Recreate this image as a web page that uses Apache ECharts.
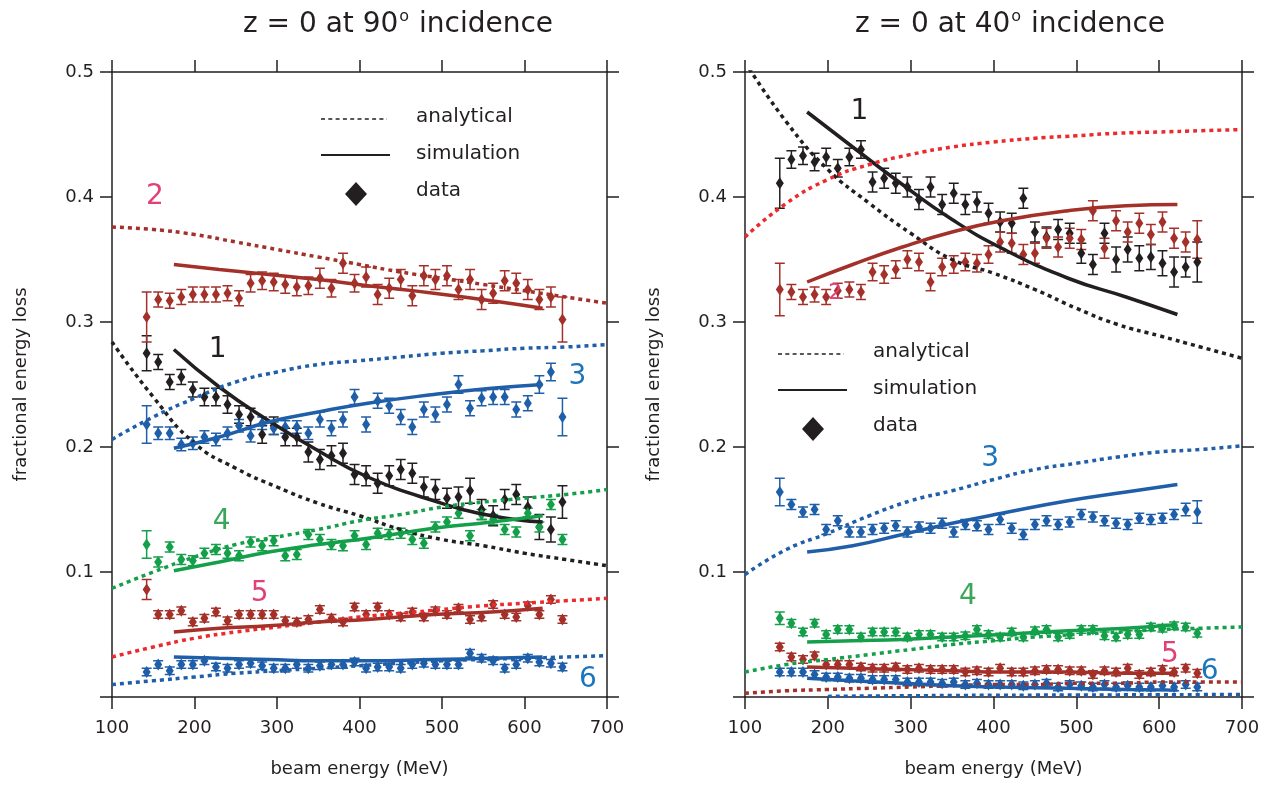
<!DOCTYPE html>
<html>
<head>
<meta charset="utf-8">
<script src="https://cdn.jsdelivr.net/npm/echarts@6.0.0/dist/echarts.min.js"></script>
<style>
html,body{margin:0;padding:0;background:#fff}
#chart{width:1271px;height:786px}
</style>
</head>
<body>
<div id="chart"></div>
<script>
// beam energies of the measured points (MeV)
var energy = [142,156,170,184,198,212,226,240,254,268,282,296,310,324,338,352,366,380,394,408,422,436,450,464,478,492,506,520,534,548,562,576,590,604,618,632,646];
// x of analytical and simulation curves
var anaE = [100,150,200,250,300,350,400,450,500,550,600,650,700];
var simE = [175,230,290,350,410,490,560,622];
var yTicks = [0, 0.1, 0.2, 0.3, 0.4, 0.5];

// ---- 90 deg incidence (left) ----
var L1_data = [0.275,0.268,0.252,0.256,0.246,0.240,0.240,0.234,0.226,0.224,0.210,0.217,0.208,0.208,0.196,0.190,0.193,0.195,0.178,0.177,0.171,0.177,0.182,0.179,0.168,0.166,0.159,0.160,0.165,0.150,0.145,0.158,0.162,0.152,0.136,0.134,0.156];
var L1_err = [0.014,0.006,0.006,0.006,0.006,0.007,0.007,0.007,0.007,0.007,0.007,0.007,0.007,0.007,0.008,0.008,0.008,0.008,0.008,0.008,0.008,0.008,0.008,0.008,0.008,0.008,0.008,0.008,0.010,0.008,0.008,0.008,0.008,0.008,0.010,0.010,0.013];
var L1_sim = [0.278,0.248,0.221,0.197,0.176,0.157,0.145,0.140];
var L1_ana = [0.284,0.240,0.203,0.183,0.168,0.155,0.145,0.134,0.126,0.121,0.115,0.110,0.105];

var L2_data = [0.304,0.318,0.317,0.320,0.322,0.322,0.322,0.323,0.319,0.331,0.333,0.332,0.330,0.328,0.329,0.335,0.327,0.347,0.331,0.336,0.322,0.327,0.334,0.321,0.337,0.334,0.337,0.326,0.334,0.318,0.323,0.333,0.331,0.326,0.318,0.320,0.302];
var L2_err = [0.020,0.006,0.006,0.006,0.006,0.006,0.006,0.006,0.006,0.007,0.007,0.007,0.007,0.007,0.007,0.008,0.007,0.008,0.007,0.008,0.008,0.008,0.008,0.008,0.008,0.008,0.008,0.008,0.008,0.008,0.008,0.008,0.008,0.008,0.008,0.008,0.018];
var L2_sim = [0.346,0.342,0.338,0.334,0.329,0.323,0.317,0.311];
var L2_ana = [0.376,0.374,0.370,0.364,0.358,0.352,0.346,0.340,0.335,0.330,0.325,0.320,0.315];

var L3_data = [0.218,0.211,0.211,0.202,0.203,0.208,0.206,0.211,0.217,0.209,0.219,0.215,0.216,0.216,0.211,0.222,0.215,0.222,0.240,0.218,0.237,0.233,0.224,0.216,0.230,0.226,0.234,0.250,0.231,0.239,0.240,0.240,0.230,0.235,0.250,0.260,0.224];
var L3_err = [0.015,0.005,0.005,0.005,0.005,0.005,0.005,0.005,0.005,0.005,0.005,0.005,0.005,0.005,0.005,0.006,0.006,0.006,0.006,0.006,0.006,0.006,0.006,0.006,0.006,0.006,0.006,0.007,0.006,0.006,0.006,0.006,0.006,0.006,0.007,0.007,0.015];
var L3_sim = [0.199,0.208,0.220,0.228,0.235,0.242,0.247,0.250];
var L3_ana = [0.206,0.224,0.239,0.252,0.260,0.266,0.269,0.272,0.275,0.277,0.279,0.280,0.282];

var L4_data = [0.122,0.108,0.120,0.110,0.109,0.115,0.118,0.115,0.113,0.124,0.121,0.125,0.113,0.114,0.130,0.126,0.122,0.121,0.129,0.122,0.131,0.130,0.131,0.126,0.123,0.136,0.140,0.147,0.129,0.146,0.142,0.134,0.132,0.147,0.136,0.154,0.126];
var L4_err = [0.011,0.004,0.004,0.004,0.004,0.004,0.004,0.004,0.004,0.004,0.004,0.004,0.004,0.004,0.004,0.004,0.004,0.004,0.004,0.004,0.004,0.004,0.004,0.004,0.004,0.004,0.004,0.004,0.004,0.004,0.004,0.004,0.004,0.004,0.004,0.004,0.004];
var L4_sim = [0.101,0.108,0.116,0.122,0.127,0.135,0.140,0.145];
var L4_ana = [0.087,0.100,0.112,0.122,0.128,0.134,0.141,0.146,0.152,0.156,0.159,0.162,0.166];

var L5_data = [0.086,0.066,0.066,0.069,0.060,0.063,0.068,0.061,0.066,0.066,0.066,0.066,0.061,0.060,0.062,0.070,0.063,0.060,0.072,0.066,0.072,0.066,0.064,0.068,0.064,0.069,0.066,0.071,0.062,0.064,0.074,0.066,0.064,0.073,0.066,0.078,0.062];
var L5_err = [0.008,0.003,0.003,0.003,0.003,0.003,0.003,0.003,0.003,0.003,0.003,0.003,0.003,0.003,0.003,0.003,0.003,0.003,0.003,0.003,0.003,0.003,0.003,0.003,0.003,0.003,0.003,0.003,0.003,0.003,0.003,0.003,0.003,0.003,0.003,0.003,0.003];
var L5_sim = [0.052,0.055,0.057,0.060,0.062,0.066,0.068,0.071];
var L5_ana = [0.032,0.040,0.047,0.052,0.056,0.060,0.064,0.067,0.070,0.073,0.075,0.077,0.079];

var L6_data = [0.020,0.026,0.021,0.026,0.026,0.029,0.024,0.023,0.026,0.027,0.025,0.023,0.023,0.026,0.023,0.025,0.026,0.026,0.028,0.023,0.024,0.024,0.023,0.026,0.027,0.026,0.026,0.026,0.035,0.031,0.029,0.023,0.026,0.031,0.028,0.027,0.024];
var L6_err = [0.003,0.003,0.003,0.003,0.003,0.003,0.003,0.003,0.003,0.003,0.003,0.003,0.003,0.003,0.003,0.003,0.003,0.003,0.003,0.003,0.003,0.003,0.003,0.003,0.003,0.003,0.003,0.003,0.003,0.003,0.003,0.003,0.003,0.003,0.003,0.003,0.003];
var L6_sim = [0.032,0.031,0.030,0.029,0.029,0.030,0.031,0.032];
var L6_ana = [0.010,0.013,0.016,0.019,0.021,0.023,0.025,0.027,0.029,0.030,0.031,0.032,0.033];

// ---- 40 deg incidence (right) ----
var R1_data = [0.411,0.430,0.433,0.428,0.432,0.423,0.432,0.438,0.412,0.415,0.411,0.408,0.398,0.408,0.394,0.403,0.394,0.396,0.387,0.380,0.379,0.399,0.372,0.368,0.374,0.371,0.355,0.346,0.371,0.350,0.358,0.351,0.352,0.347,0.340,0.344,0.348];
var R1_err = [0.020,0.007,0.007,0.007,0.007,0.007,0.007,0.007,0.008,0.008,0.008,0.008,0.008,0.008,0.008,0.008,0.008,0.008,0.008,0.008,0.008,0.008,0.008,0.008,0.008,0.008,0.008,0.008,0.008,0.010,0.010,0.010,0.010,0.010,0.012,0.008,0.016];
var R1_sim = [0.468,0.440,0.410,0.382,0.359,0.335,0.320,0.306];
var R1_ana = [0.508,0.460,0.422,0.395,0.371,0.350,0.339,0.326,0.311,0.298,0.289,0.280,0.271];

var R2_data = [0.326,0.324,0.320,0.322,0.320,0.325,0.326,0.324,0.340,0.338,0.342,0.350,0.348,0.332,0.344,0.346,0.348,0.347,0.354,0.364,0.363,0.354,0.355,0.367,0.360,0.367,0.366,0.389,0.359,0.381,0.372,0.379,0.370,0.380,0.367,0.364,0.366];
var R2_err = [0.021,0.006,0.006,0.006,0.006,0.006,0.006,0.006,0.007,0.007,0.007,0.007,0.007,0.007,0.007,0.007,0.007,0.007,0.007,0.008,0.008,0.008,0.008,0.008,0.008,0.008,0.008,0.008,0.008,0.008,0.008,0.008,0.008,0.008,0.008,0.008,0.015];
var R2_sim = [0.332,0.346,0.360,0.372,0.381,0.389,0.393,0.394];
var R2_ana = [0.368,0.395,0.414,0.426,0.434,0.440,0.444,0.447,0.449,0.451,0.452,0.453,0.454];

var R3_data = [0.164,0.154,0.148,0.150,0.134,0.141,0.132,0.132,0.134,0.135,0.137,0.132,0.136,0.135,0.139,0.132,0.138,0.137,0.134,0.142,0.135,0.130,0.138,0.141,0.138,0.140,0.146,0.144,0.141,0.139,0.138,0.143,0.142,0.143,0.146,0.150,0.148];
var R3_err = [0.011,0.004,0.004,0.004,0.004,0.004,0.004,0.004,0.004,0.004,0.004,0.004,0.004,0.004,0.004,0.004,0.004,0.004,0.004,0.004,0.004,0.004,0.004,0.004,0.004,0.004,0.004,0.004,0.004,0.004,0.004,0.004,0.004,0.004,0.004,0.005,0.009];
var R3_sim = [0.116,0.121,0.130,0.139,0.147,0.157,0.164,0.170];
var R3_ana = [0.098,0.118,0.131,0.145,0.157,0.165,0.174,0.182,0.187,0.192,0.196,0.198,0.201];

var R4_data = [0.063,0.059,0.052,0.059,0.050,0.054,0.054,0.048,0.052,0.052,0.052,0.048,0.050,0.050,0.048,0.048,0.049,0.054,0.050,0.048,0.052,0.048,0.053,0.054,0.048,0.050,0.054,0.054,0.049,0.048,0.050,0.050,0.056,0.055,0.057,0.056,0.051];
var R4_err = [0.005,0.003,0.003,0.003,0.003,0.003,0.003,0.003,0.003,0.003,0.003,0.003,0.003,0.003,0.003,0.003,0.003,0.003,0.003,0.003,0.003,0.003,0.003,0.003,0.003,0.003,0.003,0.003,0.003,0.003,0.003,0.003,0.003,0.003,0.003,0.003,0.003];
var R4_sim = [0.044,0.045,0.046,0.048,0.050,0.053,0.055,0.058];
var R4_ana = [0.020,0.026,0.030,0.034,0.038,0.042,0.045,0.048,0.050,0.052,0.054,0.055,0.056];

var R5_data = [0.040,0.032,0.030,0.033,0.026,0.026,0.026,0.024,0.023,0.023,0.024,0.022,0.023,0.022,0.022,0.022,0.020,0.021,0.020,0.023,0.020,0.020,0.021,0.022,0.022,0.021,0.021,0.018,0.021,0.020,0.023,0.018,0.020,0.022,0.020,0.023,0.019];
var R5_err = [0.003,0.003,0.003,0.003,0.003,0.003,0.003,0.003,0.003,0.003,0.003,0.003,0.003,0.003,0.003,0.003,0.003,0.003,0.003,0.003,0.003,0.003,0.003,0.003,0.003,0.003,0.003,0.003,0.003,0.003,0.003,0.003,0.003,0.003,0.003,0.003,0.003];
var R5_sim = [0.024,0.023,0.022,0.021,0.020,0.020,0.019,0.019];
var R5_ana = [0.003,0.005,0.006,0.007,0.008,0.009,0.010,0.010,0.011,0.011,0.012,0.012,0.012];

var R6_data = [0.020,0.020,0.020,0.018,0.016,0.016,0.015,0.015,0.014,0.014,0.014,0.012,0.012,0.012,0.011,0.012,0.010,0.011,0.010,0.010,0.010,0.009,0.010,0.011,0.008,0.010,0.009,0.008,0.010,0.008,0.009,0.008,0.008,0.009,0.008,0.010,0.008];
var R6_err = [0.003,0.003,0.003,0.003,0.003,0.003,0.003,0.003,0.003,0.003,0.003,0.003,0.003,0.003,0.003,0.003,0.003,0.003,0.003,0.003,0.003,0.003,0.003,0.003,0.003,0.003,0.003,0.003,0.003,0.003,0.003,0.003,0.003,0.003,0.003,0.003,0.003];
var R6_sim = [0.015,0.013,0.011,0.009,0.008,0.007,0.006,0.0055];
var R6_ana = [null,null,0.0005,0.0008,0.0010,0.0012,0.0014,0.0015,0.0016,0.0017,0.0018,0.0019,0.0020];

var FONT = 'DejaVu Sans';
var C_BLACK = '#231f20', C_BROWN = '#a3312a', C_BLUE = '#1f5ea8', C_GREEN = '#14a04a', C_RED = '#ec2a2e';
var C_PINK = '#e23f77', C_LBLUE = '#1b75bc', C_LGREEN = '#3aa65a';

function pairs(xs, ys) {
	var out = [];
	for (var i = 0; i < xs.length; i++) {
		if (ys[i] != null) out.push([xs[i], ys[i]]);
	}
	return out;
}

function triples(xs, ys, es) {
	var out = [];
	for (var i = 0; i < xs.length; i++) out.push([xs[i], ys[i], es[i]]);
	return out;
}

// vertical bar with caps, drawn through the axis scales
function errBar(color) {
	return function(params, api) {
		var x = api.value(0), y = api.value(1), e = api.value(2);
		var p1 = api.coord([x, y + e]);
		var p2 = api.coord([x, y - e]);
		var w = 5;
		var st = {stroke: color, lineWidth: 1.5, fill: null};
		return {
			type: 'group',
			children: [
				{type: 'line', shape: {x1: p1[0], y1: p1[1], x2: p2[0], y2: p2[1]}, style: st},
				{type: 'line', shape: {x1: p1[0] - w, y1: p1[1], x2: p1[0] + w, y2: p1[1]}, style: st},
				{type: 'line', shape: {x1: p2[0] - w, y1: p2[1], x2: p2[0] + w, y2: p2[1]}, style: st}
			]
		};
	};
}

var series = [];

function addGroup(panel, color, anaColor, ana, sim, pts, errs) {
	var xi = panel * 2, yi = panel * 2;
	series.push({
		type: 'line', xAxisIndex: xi, yAxisIndex: yi, data: pairs(anaE, ana),
		symbol: 'none', smooth: true, silent: true,
		lineStyle: {color: anaColor, width: 3.5, type: [4, 4]}
	});
	series.push({
		type: 'custom', xAxisIndex: xi, yAxisIndex: yi, data: triples(energy, pts, errs),
		renderItem: errBar(color), silent: true, encode: {x: 0, y: 1}
	});
	series.push({
		type: 'scatter', xAxisIndex: xi, yAxisIndex: yi, data: pairs(energy, pts),
		symbol: 'diamond', symbolSize: [8, 12], itemStyle: {color: color, opacity: 1}, silent: true
	});
	series.push({
		type: 'line', xAxisIndex: xi, yAxisIndex: yi, data: pairs(simE, sim),
		symbol: 'none', smooth: true, silent: true,
		lineStyle: {color: color, width: 3.5}
	});
}

function tag(panel, text, x, y, color, size) {
	series.push({
		type: 'scatter', xAxisIndex: panel * 2, yAxisIndex: panel * 2, data: [[x, y]],
		symbolSize: 0, silent: true, itemStyle: {opacity: 1},
		label: {show: true, position: 'inside', formatter: text, color: color, opacity: 1, fontSize: size, fontFamily: FONT}
	});
}

addGroup(0, C_BLACK, C_BLACK, L1_ana, L1_sim, L1_data, L1_err);
addGroup(0, C_BROWN, C_BROWN, L2_ana, L2_sim, L2_data, L2_err);
addGroup(0, C_BLUE, C_BLUE, L3_ana, L3_sim, L3_data, L3_err);
addGroup(0, C_GREEN, C_GREEN, L4_ana, L4_sim, L4_data, L4_err);
addGroup(0, C_BROWN, C_RED, L5_ana, L5_sim, L5_data, L5_err);
addGroup(0, C_BLUE, C_BLUE, L6_ana, L6_sim, L6_data, L6_err);

addGroup(1, C_BLACK, C_BLACK, R1_ana, R1_sim, R1_data, R1_err);
addGroup(1, C_BROWN, C_RED, R2_ana, R2_sim, R2_data, R2_err);
addGroup(1, C_BLUE, C_BLUE, R3_ana, R3_sim, R3_data, R3_err);
addGroup(1, C_GREEN, C_GREEN, R4_ana, R4_sim, R4_data, R4_err);
addGroup(1, C_BROWN, C_BROWN, R5_ana, R5_sim, R5_data, R5_err);
addGroup(1, C_BLUE, C_BLUE, R6_ana, R6_sim, R6_data, R6_err);

tag(0, '2', 152, 0.400, C_PINK, 28);
tag(0, '1', 228, 0.278, C_BLACK, 28);
tag(0, '3', 664, 0.256, C_LBLUE, 28);
tag(0, '4', 233, 0.140, C_LGREEN, 28);
tag(0, '5', 279, 0.083, C_PINK, 28);
tag(0, '6', 677, 0.0136, C_LBLUE, 28);
tag(1, '1', 238, 0.468, C_BLACK, 28);
tag(1, '2', 209, 0.323, C_PINK, 22);
tag(1, '3', 396, 0.191, C_LBLUE, 28);
tag(1, '4', 369, 0.080, C_LGREEN, 28);
tag(1, '5', 613, 0.0336, C_PINK, 28);
tag(1, '6', 661, 0.020, C_LBLUE, 28);

function xAx(grid, pos, name) {
	return {
		type: 'value', gridIndex: grid, position: pos, min: 100, max: 700, interval: 100,
		axisLine: {show: true, onZero: false, lineStyle: {color: C_BLACK, width: 1.5}},
		axisTick: {show: true, length: 12, lineStyle: {color: C_BLACK, width: 1.5}},
		axisLabel: {show: pos == 'bottom', margin: 22, color: C_BLACK, fontSize: 18, fontFamily: FONT},
		splitLine: {show: false},
		name: name, nameLocation: 'middle', nameGap: 63,
		nameTextStyle: {color: C_BLACK, fontSize: 18, fontFamily: FONT}
	};
}

function yAx(grid, pos, name) {
	return {
		type: 'value', gridIndex: grid, position: pos, min: yTicks[0], max: yTicks[yTicks.length - 1], interval: 0.1,
		axisLine: {show: true, onZero: false, lineStyle: {color: C_BLACK, width: 1.5}},
		axisTick: {show: true, length: 12, lineStyle: {color: C_BLACK, width: 1.5}},
		axisLabel: {
			show: pos == 'left', margin: 18, color: C_BLACK, fontSize: 18, fontFamily: FONT,
			formatter: function(v) { return v == 0 ? '' : v.toFixed(1); }
		},
		splitLine: {show: false},
		name: name, nameLocation: 'middle', nameGap: 82, nameRotate: 90,
		nameTextStyle: {color: C_BLACK, fontSize: 18, fontFamily: FONT}
	};
}

// key: dotted = analytical, solid = simulation, diamond = data
function keyBox(x, y) {
	var txt = {fill: C_BLACK, fontSize: 20, fontFamily: FONT, verticalAlign: 'middle'};
	return [
		{type: 'line', shape: {x1: x, y1: y, x2: x + 66, y2: y}, style: {stroke: C_BLACK, lineWidth: 1.6, lineDash: [4, 3.3]}},
		{type: 'line', shape: {x1: x, y1: y + 36, x2: x + 69, y2: y + 36}, style: {stroke: C_BLACK, lineWidth: 2}},
		{type: 'polygon', shape: {points: [[x + 35, y + 63], [x + 46, y + 75], [x + 35, y + 87], [x + 24, y + 75]]}, style: {fill: C_BLACK}},
		{type: 'text', x: x + 95, y: y - 2, style: Object.assign({text: 'analytical'}, txt)},
		{type: 'text', x: x + 95, y: y + 35, style: Object.assign({text: 'simulation'}, txt)},
		{type: 'text', x: x + 95, y: y + 72, style: Object.assign({text: 'data'}, txt)}
	];
}

function titleText(x, deg) {
	return {
		type: 'text', x: x, y: 25,
		style: {
			text: '{a|z = 0 at ' + deg + '}{s|o}{a| incidence}',
			align: 'center', verticalAlign: 'middle',
			rich: {
				a: {fontSize: 28, fontFamily: FONT, fill: C_BLACK},
				s: {fontSize: 16, fontFamily: FONT, fill: C_BLACK, padding: [0, 1, 16, 1]}
			}
		}
	};
}

var option = {
	backgroundColor: '#fff',
	animation: false,
	grid: [
		{left: 112, top: 72, width: 495, height: 625},
		{left: 745, top: 72, width: 497, height: 625}
	],
	xAxis: [
		xAx(0, 'bottom', 'beam energy (MeV)'), xAx(0, 'top', ''),
		xAx(1, 'bottom', 'beam energy (MeV)'), xAx(1, 'top', '')
	],
	yAxis: [
		yAx(0, 'left', 'fractional energy loss'), yAx(0, 'right', ''),
		yAx(1, 'left', 'fractional energy loss'), yAx(1, 'right', '')
	],
	graphic: [titleText(398, 90), titleText(1010, 40)].concat(keyBox(321, 119), keyBox(778, 354)),
	series: series
};

var myChart = echarts.init(document.getElementById('chart'));
myChart.setOption(option);
</script>
</body>
</html>
